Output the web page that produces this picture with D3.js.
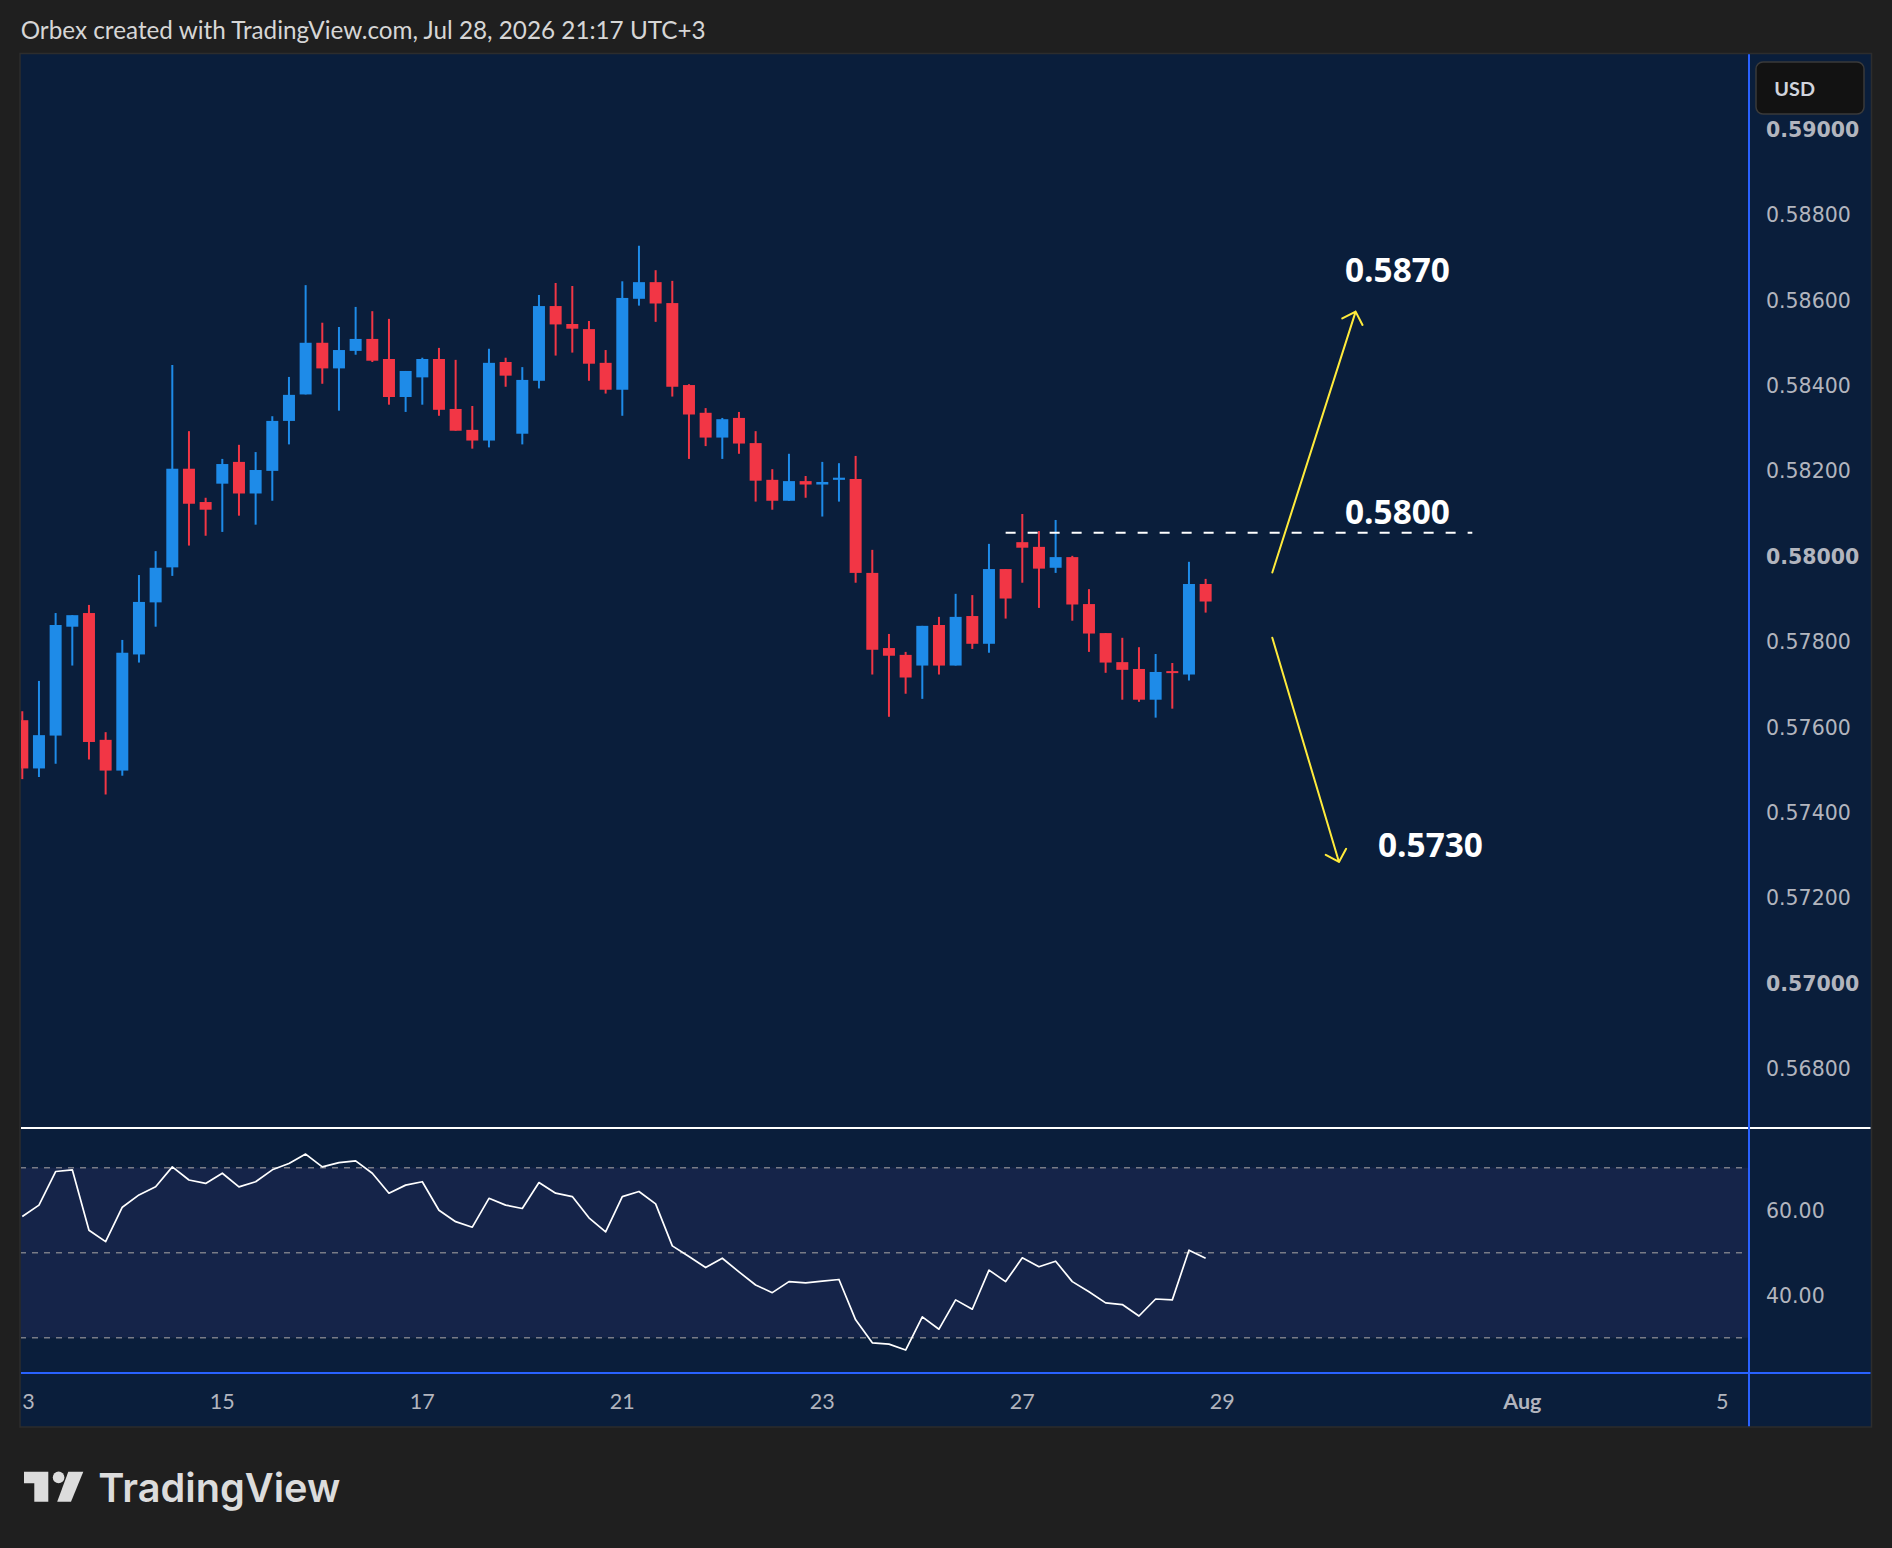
<!DOCTYPE html>
<html>
<head>
<meta charset="utf-8">
<script src="https://cdn.jsdelivr.net/npm/d3@7"></script>
<style>
  body { margin: 0; background: #1f1f1f; }
  svg { display: block; }
</style>
</head>
<body>
<div id="chart"></div>
<script>
// ---- data (4H bars, Jul 13 – Jul 28) ----
const barOpen = [0.57616,0.57503,0.57580,0.57835,0.57867,0.57570,0.57498,0.57770,0.57892,0.57974,
  0.58205,0.58127,0.58170,0.58221,0.58147,0.58200,0.58317,0.58379,0.58500,0.58440,
  0.58481,0.58509,0.58462,0.58373,0.58419,0.58462,0.58345,0.58296,0.58271,0.58455,
  0.58287,0.58411,0.58586,0.58544,0.58532,0.58453,0.58390,0.58603,0.58642,0.58593,
  0.58401,0.58336,0.58278,0.58324,0.58265,0.58179,0.58130,0.58176,0.58168,0.58179,
  0.58181,0.57961,0.57785,0.57769,0.57744,0.57839,0.57744,0.57860,0.57795,0.57970,
  0.58033,0.58022,0.57973,0.57998,0.57888,0.57820,0.57752,0.57736,0.57664,0.57731,
  0.57723,0.57935];
const barHigh = [0.57637,0.57708,0.57867,0.57862,0.57886,0.57588,0.57804,0.57956,0.58012,0.58448,
  0.58293,0.58137,0.58228,0.58261,0.58244,0.58328,0.58420,0.58635,0.58547,0.58537,
  0.58584,0.58574,0.58556,0.58434,0.58465,0.58488,0.58460,0.58352,0.58486,0.58465,
  0.58443,0.58612,0.58640,0.58633,0.58551,0.58483,0.58644,0.58727,0.58670,0.58645,
  0.58403,0.58347,0.58324,0.58338,0.58293,0.58204,0.58240,0.58188,0.58221,0.58218,
  0.58235,0.58015,0.57818,0.57776,0.57837,0.57858,0.57912,0.57909,0.58029,0.57970,
  0.58099,0.58059,0.58085,0.58001,0.57923,0.57820,0.57809,0.57787,0.57771,0.57750,
  0.57987,0.57947];
const barLow = [0.57478,0.57483,0.57514,0.57744,0.57524,0.57442,0.57486,0.57751,0.57835,0.57954,
  0.58025,0.58048,0.58057,0.58095,0.58074,0.58130,0.58262,0.58379,0.58404,0.58341,
  0.58472,0.58455,0.58355,0.58338,0.58355,0.58329,0.58294,0.58252,0.58255,0.58397,
  0.58262,0.58393,0.58470,0.58477,0.58411,0.58381,0.58329,0.58587,0.58549,0.58374,
  0.58228,0.58258,0.58228,0.58240,0.58128,0.58109,0.58130,0.58137,0.58093,0.58128,
  0.57938,0.57723,0.57624,0.57678,0.57666,0.57723,0.57744,0.57783,0.57774,0.57854,
  0.57938,0.57879,0.57961,0.57849,0.57776,0.57727,0.57664,0.57659,0.57622,0.57643,
  0.57709,0.57868];
const barClose = [0.57503,0.57581,0.57839,0.57862,0.57565,0.57498,0.57774,0.57893,0.57973,0.58205,
  0.58123,0.58109,0.58216,0.58147,0.58202,0.58317,0.58378,0.58500,0.58440,0.58483,
  0.58509,0.58458,0.58373,0.58434,0.58462,0.58343,0.58294,0.58271,0.58453,0.58423,
  0.58413,0.58586,0.58543,0.58533,0.58451,0.58390,0.58605,0.58642,0.58592,0.58397,
  0.58332,0.58278,0.58321,0.58264,0.58177,0.58130,0.58176,0.58168,0.58174,0.58184,
  0.57961,0.57781,0.57767,0.57716,0.57837,0.57744,0.57858,0.57795,0.57970,0.57901,
  0.58020,0.57971,0.57998,0.57887,0.57819,0.57751,0.57734,0.57664,0.57729,0.57727,
  0.57935,0.57894];
const rsiValues = [58.5,61.2,69.1,69.5,55.3,52.6,60.7,63.6,65.5,70.2,
  67.1,66.3,68.7,65.5,66.7,69.5,71.0,73.2,70.2,71.2,
  71.6,68.7,64.0,65.9,66.7,60.0,57.3,56.0,62.8,61.2,
  60.4,66.5,64.0,63.2,58.2,54.9,63.2,64.4,61.5,51.6,
  49.1,46.5,48.7,45.5,42.4,40.6,43.2,42.9,43.3,43.7,
  34.2,28.8,28.5,27.1,34.9,32.0,38.9,36.7,45.9,43.2,
  48.8,46.7,48.0,43.2,40.8,38.2,37.8,35.1,39.1,38.9,
  50.6,48.7];

const priceTicks = [0.590,0.588,0.586,0.584,0.582,0.580,0.578,0.576,0.574,0.572,0.570,0.568];
const rsiTicks = [60, 40];
const rsiLevels = [70, 50, 30];
const timeTickBars = [0, 12, 24, 36, 48, 60, 72, 90, 102];
const timeTickLabels = ['13', '15', '17', '21', '23', '27', '29', 'Aug', '5'];

// drawings: [bar index, price]
const levelLine = [[59, 0.58055], [87, 0.58055]];
const arrowUp = [[75, 0.57962], [80, 0.58573]];
const arrowDown = [[75, 0.57809], [79, 0.57284]];
const targetText = ['0.5870', '0.5800', '0.5730'];
const targetAt = [[79.36, 0.58642], [79.36, 0.58076], [81.34, 0.57296]];

const headerText = 'Orbex created with TradingView.com, Jul 28, 2026 21:17 UTC+3';

// ---- layout ----
const W = 1892, H = 1548;
const frame = { left: 20, top: 53.5, right: 1871.5, bottom: 1427 };
const axisX = 1749;       // price scale separator
const mainBottom = 1128;  // separator between price pane and RSI
const rsiBottom = 1373;   // line above time scale

const colors = {
  page: '#1f1f1f', pane: '#0a1e3b', band: '#152449', border: '#2d2d2d',
  up: '#1e8be8', down: '#f23645', axisText: '#b2b5be', blue: '#2962ff', yellow: '#ffeb3b'
};

const x = d3.scaleLinear().domain([0, 102]).range([22.3, 1722.3]);
const y = d3.scaleLinear().domain([0.568, 0.590]).range([1068.6, 129.3]);
const yRsi = d3.scaleLinear().domain([30, 70]).range([1337.7, 1167.7]);

const svg = d3.select('#chart').append('svg').attr('width', W).attr('height', H);

// fit a text element to a measured width from the reference
function fitWidth(sel, target) {
  const w = sel.node().getComputedTextLength();
  const fs = parseFloat(sel.attr('font-size'));
  if (w > 0) sel.attr('font-size', (fs * target / w).toFixed(2));
}

svg.append('rect').attr('width', W).attr('height', H).attr('fill', colors.page);

const defs = svg.append('defs');
defs.append('clipPath').attr('id', 'clipMain').append('rect')
  .attr('x', frame.left + 1).attr('y', frame.top + 0.5)
  .attr('width', axisX - 1 - frame.left - 1).attr('height', mainBottom - 1 - frame.top);
defs.append('clipPath').attr('id', 'clipRsi').append('rect')
  .attr('x', frame.left + 1).attr('y', mainBottom + 1)
  .attr('width', axisX - 1 - frame.left - 1).attr('height', rsiBottom - 1 - mainBottom - 1);
defs.append('clipPath').attr('id', 'clipTime').append('rect')
  .attr('x', frame.left + 1).attr('y', rsiBottom + 1)
  .attr('width', axisX - 1 - frame.left - 1).attr('height', frame.bottom - rsiBottom - 1);

// header
const header = svg.append('text')
  .attr('x', 20.7).attr('y', 39.3)
  .attr('font-family', 'Lato, "Open Sans", sans-serif').attr('font-size', 24)
  .attr('fill', '#d6d6d6').text(headerText);
fitWidth(header, 685);

// panel
svg.append('rect')
  .attr('x', frame.left).attr('y', frame.top)
  .attr('width', frame.right - frame.left).attr('height', frame.bottom - frame.top)
  .attr('fill', colors.pane).attr('stroke', colors.border).attr('stroke-width', 1.5);

// ---- RSI pane ----
const rsiG = svg.append('g').attr('clip-path', 'url(#clipRsi)');
rsiG.append('rect')
  .attr('x', frame.left).attr('width', axisX - frame.left)
  .attr('y', yRsi(70)).attr('height', yRsi(30) - yRsi(70))
  .attr('fill', colors.band);
rsiG.selectAll('line.level').data(rsiLevels).join('line')
  .attr('class', 'level')
  .attr('x1', frame.left).attr('x2', axisX)
  .attr('y1', d => yRsi(d)).attr('y2', d => yRsi(d))
  .attr('stroke', '#787b86').attr('stroke-width', 1.5).attr('stroke-dasharray', '6,6');
rsiG.append('path')
  .datum(rsiValues)
  .attr('d', d3.line().x((d, i) => x(i)).y(d => yRsi(d)))
  .attr('fill', 'none').attr('stroke', '#ffffff').attr('stroke-width', 1.7)
  .attr('stroke-linejoin', 'round');

// ---- candles ----
const bars = barOpen.map((o, i) => ({ i, o, h: barHigh[i], l: barLow[i], c: barClose[i] }));
const candleG = svg.append('g').attr('clip-path', 'url(#clipMain)');
candleG.selectAll('line.wick').data(bars).join('line')
  .attr('class', 'wick')
  .attr('x1', d => x(d.i)).attr('x2', d => x(d.i))
  .attr('y1', d => y(d.h)).attr('y2', d => y(d.l))
  .attr('stroke', d => d.c >= d.o ? colors.up : colors.down)
  .attr('stroke-width', 2);
candleG.selectAll('rect.body').data(bars).join('rect')
  .attr('class', 'body')
  .attr('x', d => x(d.i) - 6).attr('width', 12)
  .attr('y', d => y(Math.max(d.o, d.c)))
  .attr('height', d => Math.max(2, Math.abs(y(d.o) - y(d.c))))
  .attr('fill', d => d.c >= d.o ? colors.up : colors.down);

// ---- drawings ----
const drawG = svg.append('g').attr('clip-path', 'url(#clipMain)');
drawG.append('line')
  .attr('x1', x(levelLine[0][0])).attr('x2', x(levelLine[1][0]))
  .attr('y1', y(levelLine[0][1])).attr('y2', y(levelLine[1][1]))
  .attr('stroke', '#ffffff').attr('stroke-width', 2).attr('stroke-dasharray', '10,12');

function arrowPath(a, b) {
  const x1 = x(a[0]), y1 = y(a[1]), x2 = x(b[0]), y2 = y(b[1]);
  const ang = Math.atan2(y1 - y2, x1 - x2), len = 15, spread = Math.PI / 4;
  const p = d3.path();
  p.moveTo(x1, y1); p.lineTo(x2, y2);
  p.moveTo(x2 + len * Math.cos(ang + spread), y2 + len * Math.sin(ang + spread));
  p.lineTo(x2, y2);
  p.lineTo(x2 + len * Math.cos(ang - spread), y2 + len * Math.sin(ang - spread));
  return p.toString();
}
drawG.selectAll('path.arrow').data([arrowUp, arrowDown]).join('path')
  .attr('class', 'arrow')
  .attr('d', d => arrowPath(d[0], d[1]))
  .attr('fill', 'none').attr('stroke', colors.yellow).attr('stroke-width', 2)
  .attr('stroke-linecap', 'round').attr('stroke-linejoin', 'round');
drawG.selectAll('text.target').data(targetText).join('text')
  .attr('class', 'target')
  .attr('x', (d, i) => x(targetAt[i][0])).attr('y', (d, i) => y(targetAt[i][1]))
  .attr('font-family', '"Open Sans", Lato, sans-serif').attr('font-weight', 700)
  .attr('font-size', 33).attr('fill', '#ffffff')
  .text(d => d)
  .each(function () { fitWidth(d3.select(this), 105); });

// ---- separators ----
svg.append('line').attr('x1', frame.left + 1).attr('x2', frame.right - 1)
  .attr('y1', mainBottom).attr('y2', mainBottom)
  .attr('stroke', '#ffffff').attr('stroke-width', 2);
svg.append('line').attr('x1', frame.left + 1).attr('x2', frame.right - 1)
  .attr('y1', rsiBottom).attr('y2', rsiBottom)
  .attr('stroke', colors.blue).attr('stroke-width', 2);
svg.append('line').attr('x1', axisX).attr('x2', axisX)
  .attr('y1', frame.top + 0.75).attr('y2', frame.bottom - 0.75)
  .attr('stroke', colors.blue).attr('stroke-width', 2);

// ---- price scale ----
svg.append('g').selectAll('text').data(priceTicks).join('text')
  .attr('x', 1766).attr('y', d => y(d) + 7.5)
  .attr('font-family', '"DejaVu Sans", Verdana, sans-serif').attr('font-size', 20.5)
  .attr('font-weight', d => Math.abs(Math.round(d * 100) - d * 100) < 1e-6 ? 700 : 400)
  .attr('fill', colors.axisText)
  .text(d => d.toFixed(5));
svg.append('g').selectAll('text').data(rsiTicks).join('text')
  .attr('x', 1766).attr('y', d => yRsi(d) + 7.5)
  .attr('font-family', '"DejaVu Sans", Verdana, sans-serif').attr('font-size', 20.5)
  .attr('fill', colors.axisText)
  .text(d => d.toFixed(2));

// currency box
svg.append('rect').attr('x', 1756).attr('y', 62).attr('width', 108).attr('height', 52)
  .attr('rx', 7).attr('fill', '#121212').attr('stroke', '#3a3a3a').attr('stroke-width', 1.5);
const usd = svg.append('text').attr('x', 1774.3).attr('y', 95.7)
  .attr('font-family', 'Lato, "Open Sans", sans-serif').attr('font-weight', 700)
  .attr('font-size', 23).attr('fill', '#d1d4dc').text('USD');
fitWidth(usd, 40.7);

// ---- time scale ----
svg.append('g').attr('clip-path', 'url(#clipTime)')
  .selectAll('text').data(timeTickBars).join('text')
  .attr('x', d => x(d)).attr('y', 1409)
  .attr('text-anchor', 'middle')
  .attr('font-family', 'Lato, "Open Sans", sans-serif').attr('font-size', 21.5)
  .attr('font-weight', (d, i) => timeTickLabels[i] === 'Aug' ? 700 : 400)
  .attr('fill', colors.axisText)
  .text((d, i) => timeTickLabels[i]);

// ---- TradingView mark ----
const logo = svg.append('g').attr('fill', '#dcdcdc');
logo.append('path').attr('d', 'M24,1471.7 H48.3 V1501.7 H34.3 V1483.3 H24 Z');
logo.append('circle').attr('cx', 58.6).attr('cy', 1477.4).attr('r', 5.8);
logo.append('path').attr('d', 'M68.3,1471.7 H83.3 L71,1501.7 H57.2 Z');
const mark = logo.append('text').attr('x', 98.3).attr('y', 1501.7)
  .attr('font-family', 'Inter, "Open Sans", sans-serif').attr('font-weight', 600)
  .attr('font-size', 41).text('TradingView');
fitWidth(mark, 242);
</script>
</body>
</html>
